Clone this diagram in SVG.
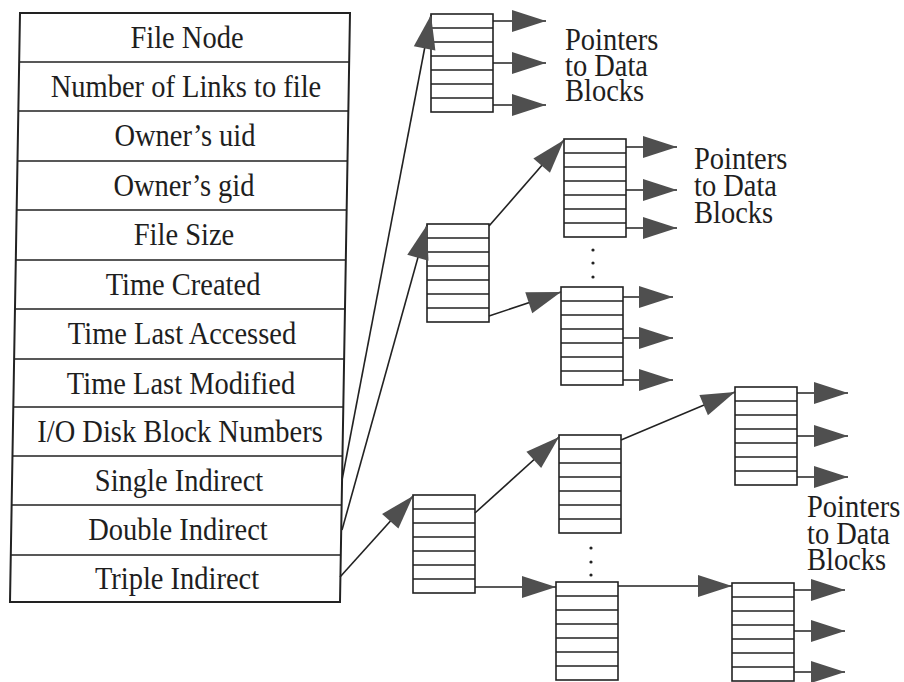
<svg xmlns="http://www.w3.org/2000/svg" xmlns:xlink="http://www.w3.org/1999/xlink" width="904" height="682" viewBox="0 0 904 682">
<style>
.t{font-family:"Liberation Serif","Times New Roman",serif;font-size:32px;fill:#1e1e1e}
.tc{text-anchor:middle}
.frame{fill:#fff;stroke:#222;stroke-width:2}
.row{stroke:#222;stroke-width:1.6}
.blk{fill:#fff;stroke:#222;stroke-width:1.6}
.con{stroke:#222;stroke-width:1.6;fill:none}
.dot{fill:#222}
</style>
<defs>
<marker id="ah" viewBox="-36 -12 37 24" refX="0" refY="0" markerWidth="37" markerHeight="24" markerUnits="userSpaceOnUse" orient="auto">
<path d="M0,0 L-34,-11 L-34,11 Z" fill="#4f4f4f"/>
</marker>
<g id="blk">
<rect class="blk" x="0" y="0" width="62" height="98"/>
<path class="row" d="M0,14H62M0,28H62M0,42H62M0,56H62M0,70H62M0,84H62"/>
</g>
</defs>
<rect width="904" height="682" fill="#fff"/>

<g id="inode">
<g transform="translate(0,13) skewX(-0.973) translate(0,-13)">
<rect class="frame" x="20" y="13" width="330" height="589"/>
<path class="row" d="M20,62H350M20,111H350M20,161H350M20,210H350M20,260H350M20,309H350M20,359H350M20,407H350M20,456H350M20,505H350M20,555H350"/>
</g>
<text class="t tc" transform="matrix(0.89,0,0,1,187,48)">File Node</text>
<text class="t tc" transform="matrix(0.89,0,0,1,186,97)">Number of Links to file</text>
<text class="t tc" transform="matrix(0.89,0,0,1,185,146)">Owner’s uid</text>
<text class="t tc" transform="matrix(0.89,0,0,1,184,196)">Owner’s gid</text>
<text class="t tc" transform="matrix(0.89,0,0,1,184,245)">File Size</text>
<text class="t tc" transform="matrix(0.89,0,0,1,183,295)">Time Created</text>
<text class="t tc" transform="matrix(0.89,0,0,1,182,344)">Time Last Accessed</text>
<text class="t tc" transform="matrix(0.89,0,0,1,181,394)">Time Last Modified</text>
<text class="t tc" transform="matrix(0.89,0,0,1,180,442)">I/O Disk Block Numbers</text>
<text class="t tc" transform="matrix(0.89,0,0,1,179,491)">Single Indirect</text>
<text class="t tc" transform="matrix(0.89,0,0,1,178,540)">Double Indirect</text>
<text class="t tc" transform="matrix(0.89,0,0,1,177,589)">Triple Indirect</text>
</g>

<g id="b1"><use xlink:href="#blk" x="431" y="14"/></g>
<g id="b2"><use xlink:href="#blk" x="427" y="224"/></g>
<g id="b3"><use xlink:href="#blk" x="564" y="139"/></g>
<g id="b4"><use xlink:href="#blk" x="561" y="287"/></g>
<g id="b5"><use xlink:href="#blk" x="413" y="495"/></g>
<g id="b6"><use xlink:href="#blk" x="559" y="435"/></g>
<g id="b7"><use xlink:href="#blk" x="556" y="582"/></g>
<g id="b8"><use xlink:href="#blk" x="735" y="387"/></g>
<g id="b9"><use xlink:href="#blk" x="732" y="583"/></g>

<g id="labels">
<text class="t" transform="matrix(0.89,0,0,1,565,50)"><tspan x="0">Pointers</tspan><tspan x="0" dy="26">to Data</tspan><tspan x="0" dy="25">Blocks</tspan></text>
<text class="t" transform="matrix(0.89,0,0,1,694,169)"><tspan x="0">Pointers</tspan><tspan x="0" dy="27">to Data</tspan><tspan x="0" dy="27">Blocks</tspan></text>
<text class="t" transform="matrix(0.89,0,0,1,807,517)"><tspan x="0">Pointers</tspan><tspan x="0" dy="27">to Data</tspan><tspan x="0" dy="26">Blocks</tspan></text>
</g>

<g id="dots">
<circle class="dot" cx="593" cy="250" r="1.6"/><circle class="dot" cx="593" cy="263" r="1.6"/><circle class="dot" cx="593" cy="277" r="1.6"/>
<circle class="dot" cx="591" cy="548" r="1.6"/><circle class="dot" cx="591" cy="562" r="1.6"/><circle class="dot" cx="591" cy="575" r="1.6"/>
</g>

<g id="connectors" marker-end="url(#ah)">
<line class="con" x1="342" y1="480" x2="431" y2="15"/>
<line class="con" x1="342" y1="530" x2="427" y2="225"/>
<line class="con" x1="340" y1="577" x2="413" y2="496"/>
<line class="con" x1="489" y1="226" x2="564" y2="140"/>
<line class="con" x1="489" y1="316" x2="561" y2="292"/>
<line class="con" x1="475" y1="513" x2="559" y2="437"/>
<line class="con" x1="475" y1="587" x2="556" y2="587"/>
<line class="con" x1="621" y1="440" x2="735" y2="392"/>
<line class="con" x1="618" y1="586" x2="732" y2="586"/>

<line class="con" x1="493" y1="21" x2="546" y2="21"/>
<line class="con" x1="493" y1="63" x2="546" y2="63"/>
<line class="con" x1="493" y1="105" x2="546" y2="105"/>
<line class="con" x1="626" y1="147" x2="677" y2="147"/>
<line class="con" x1="626" y1="190" x2="677" y2="190"/>
<line class="con" x1="626" y1="228" x2="677" y2="228"/>
<line class="con" x1="623" y1="297" x2="673" y2="297"/>
<line class="con" x1="623" y1="338" x2="673" y2="338"/>
<line class="con" x1="623" y1="380" x2="673" y2="380"/>
<line class="con" x1="797" y1="393" x2="848" y2="393"/>
<line class="con" x1="797" y1="436" x2="848" y2="436"/>
<line class="con" x1="797" y1="477" x2="848" y2="477"/>
<line class="con" x1="794" y1="590" x2="845" y2="590"/>
<line class="con" x1="794" y1="631" x2="845" y2="631"/>
<line class="con" x1="794" y1="672" x2="845" y2="672"/>
</g>
</svg>
